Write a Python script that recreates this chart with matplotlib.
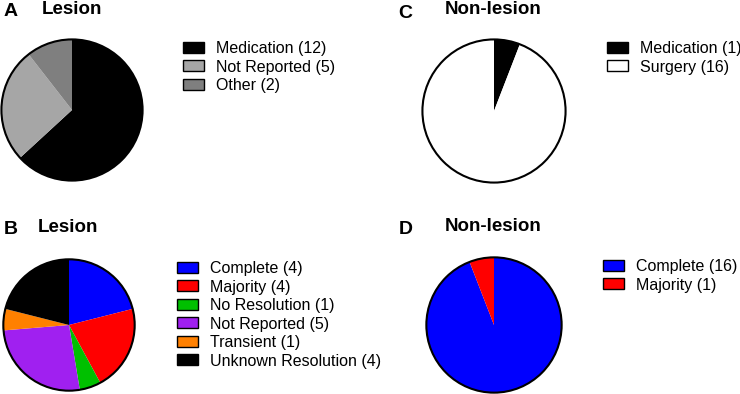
import matplotlib.pyplot as plt
from matplotlib.patches import Circle, Patch

plt.rcParams['font.family'] = ['Liberation Sans', 'DejaVu Sans']

''' data '''
a_labels = ['Medication', 'Not Reported', 'Other']
a_counts = [12, 5, 2]
a_colors = ['#000000', '#a6a6a6', '#7f7f7f']

b_labels = ['Complete', 'Majority', 'No Resolution', 'Not Reported',
            'Transient', 'Unknown Resolution']
b_counts = [4, 4, 1, 5, 1, 4]
b_colors = ['#0000ff', '#ff0000', '#00c000', '#a020f0', '#ff8000', '#000000']

c_labels = ['Medication', 'Surgery']
c_counts = [1, 16]
c_colors = ['#000000', '#ffffff']

d_labels = ['Complete', 'Majority']
d_counts = [16, 1]
d_colors = ['#0000ff', '#ff0000']

W, H = 740, 394
fig = plt.figure(figsize=(W / 100, H / 100), dpi=100)


def px_axes(left, top, size):
    # axes box given in pixel coords from the top-left corner
    return fig.add_axes([left / W, (H - top - size) / H, size / W, size / H])


def pie_panel(box, counts, colors, labels, letter, title, letter_xy, title_xy, leg_xy):
    ax = px_axes(*box)
    ax.pie(counts, colors=colors, startangle=90, counterclock=False,
           wedgeprops=dict(linewidth=0))
    ax.add_patch(Circle((0, 0), 1, fill=False, edgecolor='black', lw=1.5))
    ax.set(xlim=(-1.02, 1.02), ylim=(-1.02, 1.02), aspect='equal')
    ax.axis('off')

    fig.text(letter_xy[0] / W, 1 - letter_xy[1] / H, letter,
             fontsize=14, fontweight='bold', va='center', ha='left')
    fig.text(title_xy[0] / W, 1 - title_xy[1] / H, title,
             fontsize=13.5, fontweight='bold', va='center', ha='left')

    handles = [Patch(facecolor=c, edgecolor='black', lw=1.0) for c in colors]
    names = [f'{l} ({n})' for l, n in zip(labels, counts)]
    fig.legend(handles, names, loc='upper left',
               bbox_to_anchor=(leg_xy[0] / W, 1 - leg_xy[1] / H),
               frameon=False, fontsize=11.5, borderpad=0, borderaxespad=0,
               handlelength=1.3, handleheight=0.68, handletextpad=0.75,
               labelspacing=0.22)


pie_panel((0, 38, 144), a_counts, a_colors, a_labels, 'A', 'Lesion',
          (4, 12), (42, 10), (183, 41))
pie_panel((2, 258, 134), b_counts, b_colors, b_labels, 'B', 'Lesion',
          (4, 229), (38, 228), (177, 261))
pie_panel((421, 38, 146), c_counts, c_colors, c_labels, 'C', 'Non-lesion',
          (398, 14), (445, 10), (607, 41))
pie_panel((425, 256, 138), d_counts, d_colors, d_labels, 'D', 'Non-lesion',
          (399, 229), (445, 226), (603, 259))

fig.savefig('out.png', dpi=100)
